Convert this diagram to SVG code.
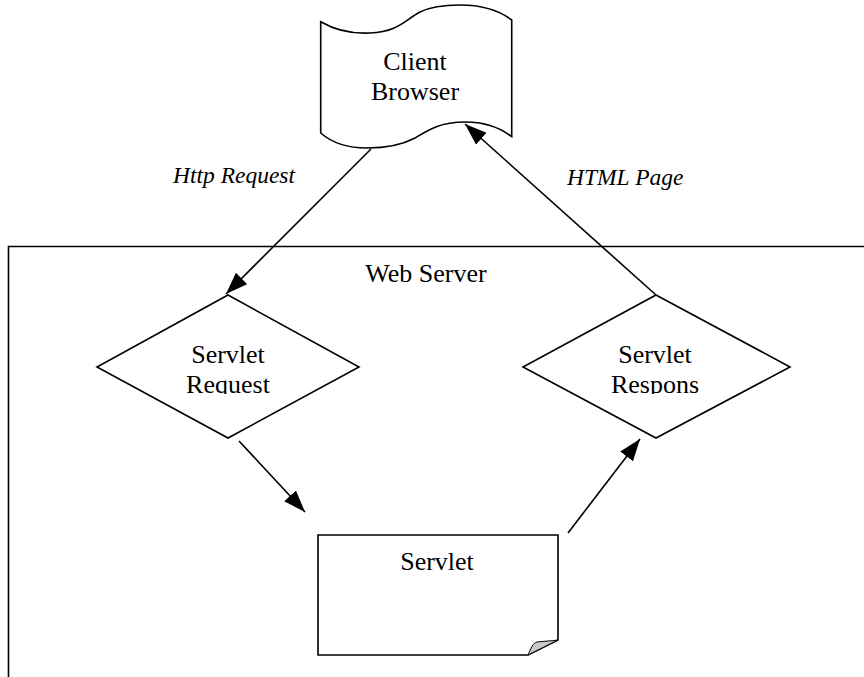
<svg xmlns="http://www.w3.org/2000/svg" width="864" height="677" viewBox="0 0 864 677">
  <style>
    .shape { fill: #ffffff; stroke: #000000; stroke-width: 1.6; stroke-linejoin: miter; }
    .label { font-family: "Liberation Serif", "Times New Roman", serif; font-size: 26px; fill: #000000; text-anchor: middle; }
    .edge-label { font-family: "Liberation Serif", "Times New Roman", serif; font-size: 23.5px; font-style: italic; fill: #000000; }
    .edge { stroke: #000000; stroke-width: 1.6; fill: none; marker-end: url(#arrow); }
  </style>
  <defs>
    <marker id="arrow" viewBox="0 0 22 16" refX="22" refY="8" markerWidth="22" markerHeight="16" markerUnits="userSpaceOnUse" orient="auto">
      <path d="M0,0 L22,8 L0,16 Z" fill="#000000"/>
    </marker>
    <clipPath id="clip-req">
      <rect x="97" y="295" width="263" height="99"/>
    </clipPath>
    <clipPath id="clip-resp">
      <rect x="523" y="295" width="268" height="99"/>
    </clipPath>
  </defs>

  <rect width="864" height="677" fill="#ffffff"/>

  <!-- web server container, running past the right and bottom edges -->
  <g id="web-server">
    <path class="shape" d="M8.5,690 L8.5,246.5 L880,246.5" fill="none"/>
    <text class="label" x="426" y="282">Web Server</text>
  </g>

  <!-- client browser (punched tape shape) -->
  <g id="client-browser">
    <path class="shape" d="M320.7,21.7 C335,30 350,34 370,33 C398,32 405,20 420,12 C432,6 445,5 460,5 C485,5 500,11 511.7,20 L511.7,136.7 C498,126 484,122 465,122 C440,122 428,130 415,138 C400,146 385,148 367,148 C345,148 331,142 320.7,133 Z"/>
    <text class="label" x="415" y="70">Client</text>
    <text class="label" x="415" y="100">Browser</text>
  </g>

  <!-- servlet request decision -->
  <g id="servlet-request">
    <polygon class="shape" points="228,295 359,367 228,438 97,367"/>
    <g clip-path="url(#clip-req)">
      <text class="label" x="228" y="363">Servlet</text>
      <text class="label" x="228" y="393">Request</text>
    </g>
  </g>

  <!-- servlet response decision -->
  <g id="servlet-response">
    <polygon class="shape" points="656,295 790,367 656,438 523,367"/>
    <g clip-path="url(#clip-resp)">
      <text class="label" x="655" y="363">Servlet</text>
      <text class="label" x="655" y="393">Respons</text>
    </g>
  </g>

  <!-- servlet document with folded corner -->
  <g id="servlet">
    <path class="shape" d="M318,535 L558,535 L558,640 L528,655 L318,655 Z"/>
    <path d="M528,655 C531,648 533,643 537,642 C545,641 552,641 558,640 Z" fill="#c8c8c8" stroke="#000000" stroke-width="1"/>
    <text class="label" x="437" y="570">Servlet</text>
  </g>

  <!-- connectors -->
  <g id="connectors">
    <line class="edge" x1="371" y1="149" x2="226" y2="294"/>
    <line class="edge" x1="656" y1="295" x2="465" y2="124"/>
    <line class="edge" x1="239" y1="441" x2="305" y2="512"/>
    <line class="edge" x1="568" y1="533" x2="640" y2="439"/>
  </g>

  <g id="edge-labels">
    <text class="edge-label" x="173" y="183">Http Request</text>
    <text class="edge-label" x="567" y="185">HTML Page</text>
  </g>
</svg>
